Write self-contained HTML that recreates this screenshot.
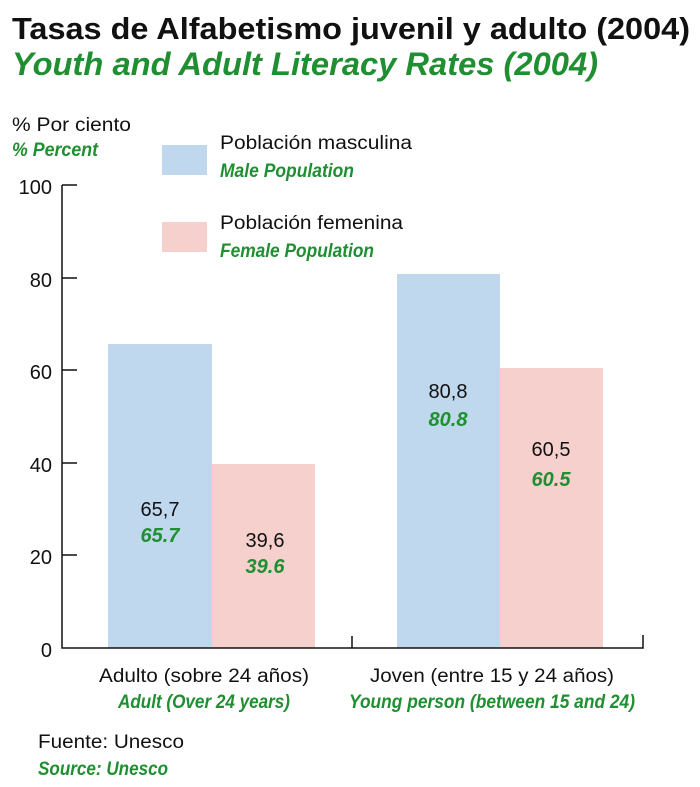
<!DOCTYPE html>
<html><head><meta charset="utf-8"><style>
html,body{margin:0;padding:0;background:#fff;}
svg{display:block;font-family:"Liberation Sans",sans-serif;}
.g{fill:#1f8f32;font-style:italic;font-weight:bold;}
</style></head><body>
<svg width="700" height="787" viewBox="0 0 700 787">
<text x="12" y="39" font-size="31" font-weight="bold" textLength="678" lengthAdjust="spacingAndGlyphs" fill="#111">Tasas de Alfabetismo juvenil y adulto (2004)</text>
<text x="12" y="75" font-size="32" class="g" textLength="586" lengthAdjust="spacingAndGlyphs">Youth and Adult Literacy Rates (2004)</text>
<text x="12" y="131" font-size="19" fill="#111" textLength="119" lengthAdjust="spacingAndGlyphs">% Por ciento</text>
<text x="12" y="156" font-size="19" class="g" textLength="86" lengthAdjust="spacingAndGlyphs">% Percent</text>
<rect x="162" y="145" width="45" height="30" fill="#c0d8ee"/>
<text x="220" y="149" font-size="19" fill="#111" textLength="192" lengthAdjust="spacingAndGlyphs">Población masculina</text>
<text x="220" y="177" font-size="19" class="g" textLength="134" lengthAdjust="spacingAndGlyphs">Male Population</text>
<rect x="162" y="222" width="45" height="30" fill="#f5d0cc"/>
<text x="220" y="229" font-size="19" fill="#111" textLength="183" lengthAdjust="spacingAndGlyphs">Población femenina</text>
<text x="220" y="257" font-size="19" class="g" textLength="154" lengthAdjust="spacingAndGlyphs">Female Population</text>
<rect x="108" y="344" width="104" height="304" fill="#c0d8ee"/>
<rect x="212" y="464" width="103" height="184" fill="#f5d0cc"/>
<rect x="397" y="274" width="103" height="374" fill="#c0d8ee"/>
<rect x="500" y="368" width="103" height="280" fill="#f5d0cc"/>
<g stroke="#111" stroke-width="1.5" fill="none">
<path d="M62 185V648H643V635M352 648V636"/>
<path d="M62 185H77M62 278H77M62 370H77M62 463H77M62 555H77"/>
</g>
<g font-size="20" fill="#111" text-anchor="end">
<text x="52" y="194">100</text><text x="52" y="287">80</text><text x="52" y="379">60</text>
<text x="52" y="472">40</text><text x="52" y="564">20</text><text x="52" y="657">0</text>
</g>
<g font-size="20" text-anchor="middle" fill="#111">
<text x="160" y="516">65,7</text><text x="265" y="547">39,6</text>
<text x="448" y="398">80,8</text><text x="551" y="456">60,5</text>
</g>
<g font-size="20" text-anchor="middle" class="g">
<text x="160" y="542">65.7</text><text x="265" y="573">39.6</text>
<text x="448" y="426">80.8</text><text x="551" y="486">60.5</text>
</g>
<text x="204" y="682" font-size="19" text-anchor="middle" fill="#111" textLength="210" lengthAdjust="spacingAndGlyphs">Adulto (sobre 24 años)</text>
<text x="204" y="708" font-size="19" text-anchor="middle" class="g" textLength="172" lengthAdjust="spacingAndGlyphs">Adult (Over 24 years)</text>
<text x="492" y="682" font-size="19" text-anchor="middle" fill="#111" textLength="244" lengthAdjust="spacingAndGlyphs">Joven (entre 15 y 24 años)</text>
<text x="492" y="708" font-size="19" text-anchor="middle" class="g" textLength="286" lengthAdjust="spacingAndGlyphs">Young person (between 15 and 24)</text>
<text x="38" y="748" font-size="19" fill="#111" textLength="146" lengthAdjust="spacingAndGlyphs">Fuente: Unesco</text>
<text x="38" y="775" font-size="19" class="g" textLength="130" lengthAdjust="spacingAndGlyphs">Source: Unesco</text>
</svg>
</body></html>
